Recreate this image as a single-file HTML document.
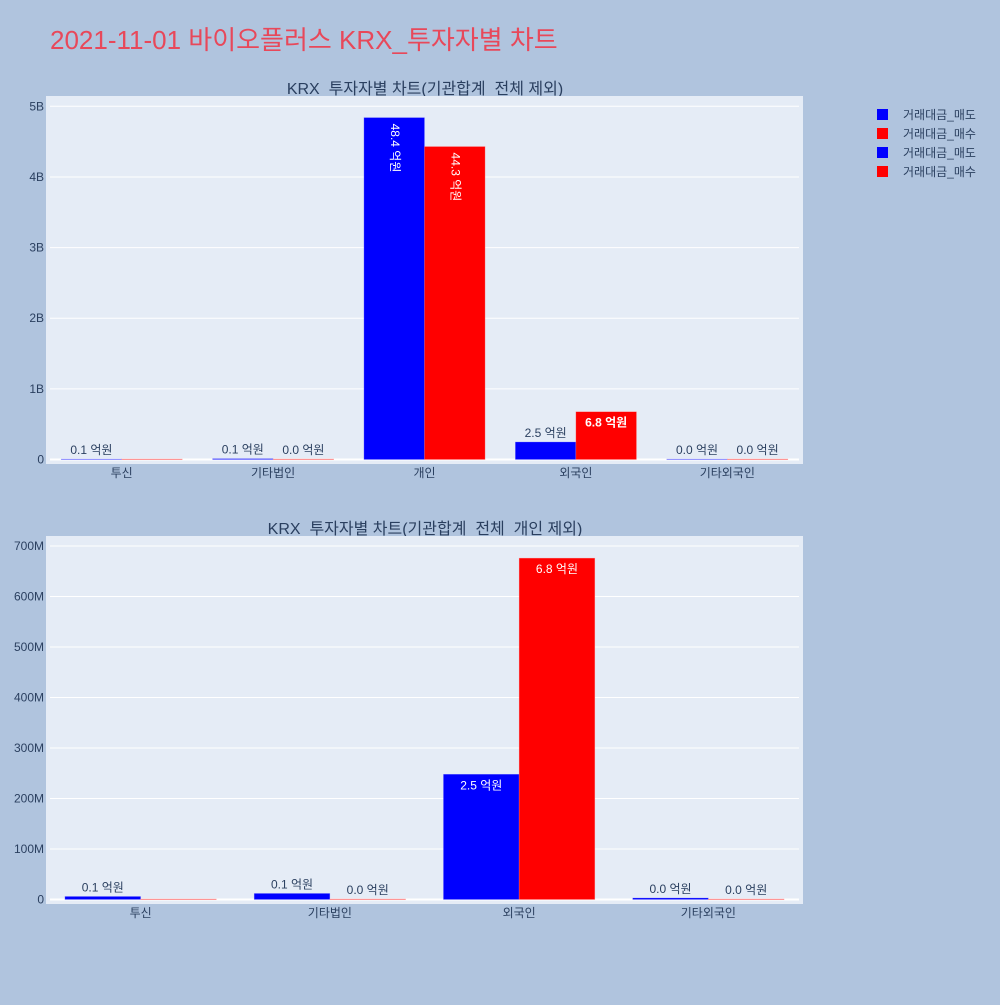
<!DOCTYPE html>
<html><head><meta charset="utf-8"><style>
body{margin:0;background:#b0c4de;}
svg text{font-family:"Liberation Sans","Noto Sans CJK KR",sans-serif;}
</style></head><body>
<svg id="root" width="1000" height="1000" xmlns="http://www.w3.org/2000/svg">
<rect width="1000" height="1000" fill="#b0c4de"/>
<text x="50" y="49" font-size="26" fill="#e8485a">2021-11-01 바이오플러스 KRX_투자자별 차트</text>
<g id="c1"></g>
<g id="c2"></g>
<g>
<rect x="877" y="109" width="11" height="11" fill="#0000ff"/>
<text x="903" y="119" font-size="12" fill="#2a3f5f">거래대금_매도</text>
<rect x="877" y="128" width="11" height="11" fill="#ff0000"/>
<text x="903" y="138" font-size="12" fill="#2a3f5f">거래대금_매수</text>
<rect x="877" y="147" width="11" height="11" fill="#0000ff"/>
<text x="903" y="157" font-size="12" fill="#2a3f5f">거래대금_매도</text>
<rect x="877" y="166" width="11" height="11" fill="#ff0000"/>
<text x="903" y="176" font-size="12" fill="#2a3f5f">거래대금_매수</text>
</g>
</svg>
<script>
const cats1=["투신","기타법인","개인","외국인","기타외국인"];
const sell1=[6e6,12e6,4840e6,248e6,3e6];
const buy1=[0,1e6,4430e6,676e6,1e6];
const ticks1=[0,1e9,2e9,3e9,4e9,5e9];
const tickLabels1=["0","1B","2B","3B","4B","5B"];
const cats2=["투신","기타법인","외국인","기타외국인"];
const sell2=[6e6,12e6,248e6,3e6];
const buy2=[0,1e6,676e6,1e6];
const ticks2=[0,1e8,2e8,3e8,4e8,5e8,6e8,7e8];
const tickLabels2=["0","100M","200M","300M","400M","500M","600M","700M"];
const NS="http://www.w3.org/2000/svg";
function mk(p,tag,attrs,txt){const e=document.createElementNS(NS,tag);for(const k in attrs)e.setAttribute(k,attrs[k]);if(txt!==undefined)e.textContent=txt;p.appendChild(e);return e;}
function lbl(v){return (Math.round(v/1e7)/10).toFixed(1)+" 억원";}
function draw(g,title,cats,sell,buy,ticks,tl,top,y0,yMaxPx,vMax,rotateBig){
  const left=46,right=803,bottom=top+368;
  const y=v=>y0-(v/vMax)*(y0-yMaxPx);
  const bw=(right-left)/cats.length;
  const x=i=>left+bw*(i+0.5);
  const barW=bw*0.4;
  let e=mk(g,'text',{x:425,y:top-2,'font-size':16,fill:'#2a3f5f','text-anchor':'middle'},title);
  
  
  e=mk(g,'rect',{x:left,y:top,width:right-left,height:bottom-top,fill:'#e5ecf6'});
  
  
  ticks.forEach((t,i)=>{
    const l=mk(g,'line',{x1:50,x2:799,y1:y(t),y2:y(t),stroke:'#fff','stroke-width':i==0?2:1});
    
    
    const tx=mk(g,'text',{x:44,y:y(t)+4,'font-size':12,fill:'#2a3f5f','text-anchor':'end'},tl[i]);
    
    
  });
  cats.forEach((c,i)=>{
    const tx=mk(g,'text',{x:x(i),y:bottom+13,'font-size':12,fill:'#2a3f5f','text-anchor':'middle'},c);
    
    
    [[sell[i],'#0000ff',x(i)-barW,'bar-sell'],[buy[i],'#ff0000',x(i),'bar-buy']].forEach(([v,col,bx,nm])=>{
      const h=Math.max(y0-y(v),0.5);
      const r=mk(g,'rect',{x:bx,y:y0-h,width:barW,height:h,fill:col,stroke:col==='#0000ff'?'#8888ff':'#ff8888','stroke-width':0.5,'stroke-opacity':0.6});
      
      
      const cx=bx+barW/2;let t;
      if(h>40 && rotateBig && h>200){
        t=mk(g,'text',{x:cx,y:y0-h+6,'font-size':12,fill:'#fff',transform:`rotate(90 ${cx} ${y0-h+6})`,'dominant-baseline':'middle'},lbl(v));
      }else if(h>30){
        t=mk(g,'text',{x:cx,y:y0-h+15,'font-size':12,fill:'#fff','text-anchor':'middle','font-weight':h<100&&rotateBig?'bold':'normal'},lbl(v));
      }else{
        t=mk(g,'text',{x:cx,y:y0-h-5,'font-size':12,fill:'#2a3f5f','text-anchor':'middle'},lbl(v));
      }
      if(v===0)t.textContent='';
      
      
    });
  });
}
draw(document.getElementById('c1'),"KRX_투자자별 차트(기관합계_전체 제외)",cats1,sell1,buy1,ticks1,tickLabels1,96,459.5,106.3,5e9,true);
draw(document.getElementById('c2'),"KRX_투자자별 차트(기관합계_전체_개인 제외)",cats2,sell2,buy2,ticks2,tickLabels2,536,899.5,546,7e8,false);
</script>
</body></html>
